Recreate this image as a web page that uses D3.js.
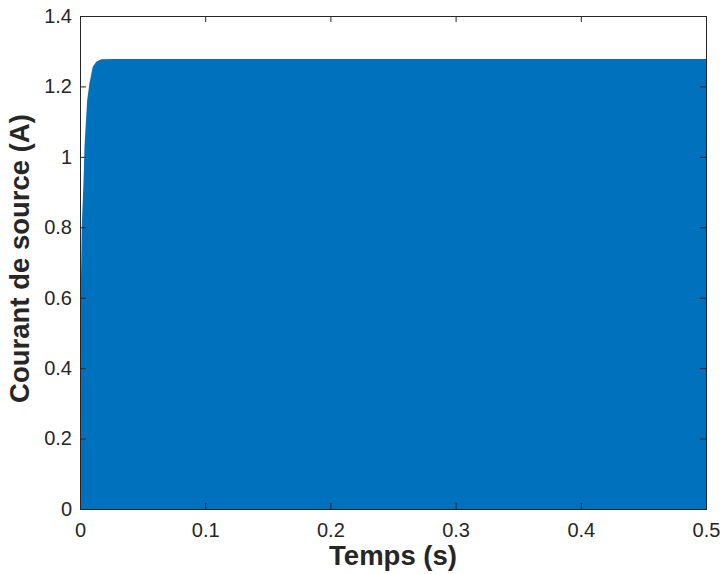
<!DOCTYPE html>
<html>
<head>
<meta charset="utf-8">
<script src="https://cdn.jsdelivr.net/npm/d3@7"></script>
<style>
  body { margin: 0; background: #fff; }
  text { font-family: "Liberation Sans", Arial, Helvetica, sans-serif; fill: #262626; }
</style>
</head>
<body>
<div id="chart"></div>
<script>
// envelope of the source current (A) vs time (s)
const tEnv = [0, 0.0006, 0.0014, 0.0028, 0.0036, 0.0057, 0.0076, 0.0102, 0.013, 0.017, 0.025, 0.1, 0.2, 0.3, 0.4, 0.5];
const iEnv = [0.36, 0.61, 0.80, 0.93, 1.03, 1.16, 1.21, 1.256, 1.27, 1.277, 1.278, 1.278, 1.278, 1.278, 1.278, 1.278];
const xTicks = [0, 0.1, 0.2, 0.3, 0.4, 0.5];
const yTicks = [0, 0.2, 0.4, 0.6, 0.8, 1, 1.2, 1.4];

const width = 723, height = 574;
const margin = {left: 80, top: 16, right: 17, bottom: 65};
const w = width - margin.left - margin.right;
const h = height - margin.top - margin.bottom;

let svg = d3.select("#chart")
    .append("svg")
    .attr("width", width)
    .attr("height", height)
    .append("g")
    .attr("transform", `translate(${margin.left}, ${margin.top})`);

let x = d3.scaleLinear().domain([0, 0.5]).range([0, w]);
let y = d3.scaleLinear().domain([0, 1.4]).range([h, 0]);

let data = tEnv.map((t, i) => ({t: t, v: iEnv[i]}));

// filled current (high frequency oscillation looks solid)
svg.append("path")
    .datum(data)
    .attr("fill", "#0072BD")
    .attr("d", d3.area()
        .x(d => x(d.t))
        .y0(y(0))
        .y1(d => y(d.v)));

const fmt = d => d === 0 ? "0" : String(+d.toFixed(1));

// axes, ticks pointing inward like matlab
let xAxis = svg.append("g")
    .attr("transform", `translate(0, ${h})`)
    .call(d3.axisBottom(x).tickValues(xTicks).tickFormat(fmt).tickSizeInner(-6).tickSizeOuter(0).tickPadding(14));
let yAxis = svg.append("g")
    .call(d3.axisLeft(y).tickValues(yTicks).tickFormat(fmt).tickSizeInner(-6).tickSizeOuter(0).tickPadding(8));
svg.append("g")
    .call(d3.axisTop(x).tickValues(xTicks).tickFormat("").tickSizeInner(-6).tickSizeOuter(0));
svg.append("g")
    .attr("transform", `translate(${w}, 0)`)
    .call(d3.axisRight(y).tickValues(yTicks).tickFormat("").tickSizeInner(-6).tickSizeOuter(0));

svg.selectAll(".domain").remove();
svg.selectAll(".tick line").attr("stroke", "#262626");
svg.selectAll(".tick text").style("font-size", "20px").attr("fill", "#262626");

// box
svg.append("rect")
    .attr("x", 0.5).attr("y", 0.5)
    .attr("width", w).attr("height", h)
    .attr("fill", "none")
    .attr("stroke", "#262626")
    .attr("stroke-width", 1);

svg.append("text")
    .attr("transform", `translate(${w / 2}, ${h + 56})`)
    .style("text-anchor", "middle")
    .style("font-size", "27.5px")
    .style("font-weight", "bold")
    .text("Temps (s)");

svg.append("text")
    .attr("transform", `translate(-51, ${h / 2 - 4}) rotate(-90)`)
    .style("text-anchor", "middle")
    .style("font-size", "27.5px")
    .style("font-weight", "bold")
    .text("Courant de source (A)");
</script>
</body>
</html>
